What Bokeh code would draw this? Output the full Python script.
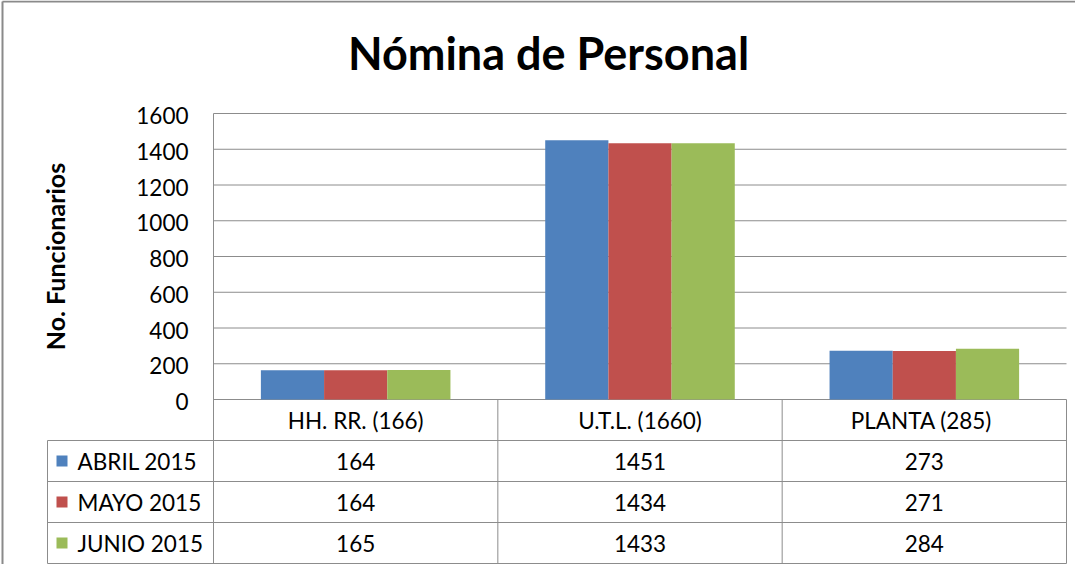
import math
from bokeh.plotting import figure
from bokeh.models import Range1d
from bokeh.core.properties import value
from bokeh.embed import file_html
from bokeh.resources import INLINE

# ---------------- data ----------------
categories = ["HH. RR. (166)", "U.T.L. (1660)", "PLANTA  (285)"]
series_names = ["ABRIL 2015", "MAYO 2015", "JUNIO 2015"]
abril_2015 = [164, 1451, 273]
mayo_2015 = [164, 1434, 271]
junio_2015 = [165, 1433, 284]
y_ticks = [0, 200, 400, 600, 800, 1000, 1200, 1400, 1600]
chart_title = "Nómina de Personal"
y_axis_title = "No. Funcionarios"

series_values = [abril_2015, mayo_2015, junio_2015]
colors = ["#4F81BD", "#C0504D", "#9BBB59"]

# ---------------- layout (canvas pixels) ----------------
W, H = 1075, 564
PL, PR, PT, PB = 213, 1066, 113, 399      # plot area
NCAT = len(categories)
YMAX = y_ticks[-1]
KX = NCAT / (PR - PL)                      # x units per px
KY = YMAX / (PB - PT)                      # y units per px


def X(px):
    return (px - PL) * KX


def Y(py):
    return (PB - py) * KY


ROW_H = 41
LEG_LEFT = 47
FONT = value("Lato")
FS = "22.5px"
GRID = "#8c8c8c"

p = figure(width=W, height=H, output_backend="svg", toolbar_location=None,
           x_range=Range1d(X(0), X(W)), y_range=Range1d(Y(H), Y(0)),
           x_axis_type=None, y_axis_type=None, min_border=0,
           min_border_left=0, min_border_right=0, min_border_top=0, min_border_bottom=0)
p.grid.visible = False
p.outline_line_color = None
p.background_fill_color = "white"
p.border_fill_color = "white"

# outer chart border (left and top visible)
p.segment(x0=[X(2), X(2)], y0=[Y(H), Y(1)], x1=[X(2), X(W)], y1=[Y(1), Y(1)],
          line_color="#8a8a8a", line_width=2)

# gridlines
p.segment(x0=[0] * len(y_ticks), x1=[NCAT] * len(y_ticks), y0=y_ticks, y1=y_ticks,
          line_color=GRID, line_width=1)

# bars
bw = 1.0 / (len(series_names) + 1.5)
for i, (vals, col) in enumerate(zip(series_values, colors)):
    xs = [j + 0.5 + (i - 1) * bw for j in range(NCAT)]
    p.vbar(x=xs, top=vals, bottom=0, width=bw, fill_color=col, line_color=None)

# y tick labels
p.text(x=[X(188)] * len(y_ticks), y=[t - 2 * KY for t in y_ticks],
       text=[str(t) for t in y_ticks],
       text_font=FONT, text_font_size=FS, text_align="right", text_baseline="middle",
       text_color="#000000")

# y axis title
p.text(x=[X(54)], y=[YMAX / 2], text=[y_axis_title], angle=math.pi / 2,
       text_font=FONT, text_font_size="25px", text_font_style="bold",
       text_align="center", text_baseline="middle", text_color="#000000")

# chart title
p.text(x=[X(548)], y=[Y(52)], text=[chart_title], text_font=FONT,
       text_font_size="45px", text_font_style="bold", text_align="center",
       text_baseline="middle", text_color="#000000")

# ---------------- data table ----------------
nrows = len(series_names)
bottom_px = PB + ROW_H * (nrows + 1)
# horizontal lines
hy = [Y(PB + ROW_H * (r + 1)) for r in range(nrows + 1)]
p.segment(x0=[X(LEG_LEFT)] * len(hy), x1=[NCAT] * len(hy), y0=hy, y1=hy,
          line_color=GRID, line_width=1)
# vertical lines
vx = list(range(NCAT + 1))
p.segment(x0=vx, x1=vx, y0=[YMAX if v == 0 else 0 for v in vx], y1=[Y(bottom_px)] * len(vx),
          line_color=GRID, line_width=1)
p.segment(x0=[X(LEG_LEFT)], x1=[X(LEG_LEFT)], y0=[Y(PB + ROW_H)], y1=[Y(bottom_px)],
          line_color=GRID, line_width=1)

# header row
p.text(x=[j + 0.5 for j in range(NCAT)], y=[Y(PB + ROW_H / 2)] * NCAT, text=categories,
       text_font=FONT, text_font_size=FS, text_align="center", text_baseline="middle",
       text_color="#000000")

# value rows
for r, (name, vals, col) in enumerate(zip(series_names, series_values, colors)):
    yc = Y(PB + ROW_H * (r + 1.5))
    p.text(x=[j + 0.5 for j in range(NCAT)], y=[yc] * NCAT, text=[str(v) for v in vals],
           text_font=FONT, text_font_size=FS, text_align="center", text_baseline="middle",
           text_color="#000000")
    p.scatter(x=[X(61.5)], y=[yc], marker="square", size=11, fill_color=col, line_color=None)
    p.text(x=[X(77)], y=[yc], text=[name], text_font=FONT, text_font_size=FS,
           text_align="left", text_baseline="middle", text_color="#000000")

open("out.html", "w").write(file_html(p, INLINE))
